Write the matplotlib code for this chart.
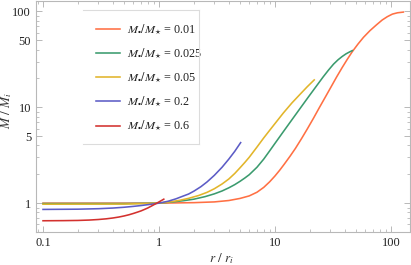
import matplotlib
matplotlib.use("Agg")
import matplotlib.pyplot as plt
from matplotlib.ticker import LogLocator, FixedLocator, NullFormatter, FixedFormatter
from matplotlib.lines import Line2D

plt.rcParams['font.family'] = ['Liberation Serif', 'DejaVu Serif']
plt.rcParams['mathtext.fontset'] = 'stix'

# ---- data ----
labels = [r'$M_{\bullet}/M_{\star}$ = 0.01', r'$M_{\bullet}/M_{\star}$ = 0.025',
          r'$M_{\bullet}/M_{\star}$ = 0.05', r'$M_{\bullet}/M_{\star}$ = 0.2',
          r'$M_{\bullet}/M_{\star}$ = 0.6']
colors = ['#ff7043', '#3b9b6e', '#e2b52a', '#5c5cc6', '#d3312e']

r_001 = [0.1, 0.5, 1.0, 2.0, 3.0, 4.0, 5.0, 6.0, 7.0, 8.0, 9.0, 10, 11, 12, 13.5, 15, 17,
         19, 21.5, 24, 27, 30, 34, 38, 42, 46.4, 52, 58, 66, 75, 84, 93, 103, 114, 128]
M_001 = [1.0, 1.0, 1.0, 1.012, 1.03, 1.065, 1.12, 1.19, 1.30, 1.46, 1.67, 1.92, 2.21,
         2.54, 3.09, 3.72, 4.74, 5.94, 7.7, 9.8, 12.6, 15.8, 20.7, 26.0, 31.6, 38.0, 45.7,
         53.7, 63.1, 72.4, 81.3, 88.1, 93.8, 96.8, 98.4]

r_0025 = [0.1, 0.5, 1.0, 1.3, 1.62, 2.0, 2.5, 3.0, 3.5, 4.0, 4.5, 5.0, 5.5, 6.0, 7.0, 8.0,
          9.0, 10, 11.8, 14, 16.4, 19.5, 22.9, 26, 29, 32, 35, 38, 41, 44, 46.4]
M_0025 = [0.99, 0.99, 1.0, 1.028, 1.06, 1.10, 1.17, 1.25, 1.34, 1.445, 1.56, 1.69, 1.83,
          1.98, 2.37, 2.88, 3.51, 4.2, 5.56, 7.41, 9.66, 12.9, 16.8, 20.7, 24.5, 28.2, 31.3,
          33.9, 36.1, 37.8, 39.0]

r_005 = [0.1, 0.5, 1.0, 1.24, 1.5, 1.8, 2.2, 2.6, 3.0, 3.5, 4.0, 4.5, 5.0, 5.5, 6.0, 7.0,
         8.0, 9.0, 10, 11.8, 14, 16.4, 19, 21.8]
M_005 = [0.975, 0.978, 1.0, 1.03, 1.069, 1.122, 1.202, 1.297, 1.413, 1.585, 1.786, 2.04,
         2.34, 2.66, 3.01, 3.85, 4.79, 5.75, 6.76, 8.71, 11.1, 13.6, 16.4, 19.3]

r_02 = [0.1, 0.2, 0.3, 0.4, 0.5, 0.6, 0.7, 0.8, 0.9, 1.0, 1.2, 1.4, 1.6, 1.8, 2.0, 2.3,
        2.6, 3.0, 3.5, 4.0, 4.5, 5.06]
M_02 = [0.86, 0.865, 0.875, 0.889, 0.906, 0.925, 0.944, 0.964, 0.982, 1.0, 1.047, 1.109,
        1.18, 1.245, 1.334, 1.486, 1.667, 1.95, 2.37, 2.88, 3.47, 4.28]

r_06 = [0.1, 0.15, 0.2, 0.25, 0.3, 0.35, 0.4, 0.45, 0.5, 0.55, 0.6, 0.65, 0.7, 0.75, 0.8,
        0.85, 0.9, 0.95, 1.0, 1.05, 1.1]
M_06 = [0.655, 0.657, 0.66, 0.666, 0.675, 0.686, 0.70, 0.716, 0.735, 0.756, 0.78, 0.805,
        0.83, 0.86, 0.89, 0.925, 0.96, 0.995, 1.03, 1.065, 1.10]

x_ticks = [0.1, 1, 10, 100]
x_ticklabels = ['0.1', '1', '10', '100']
y_ticks = [1, 5, 10, 50, 100]
y_ticklabels = ['1', '5', '10', '50', '100']

series = [(r_001, M_001), (r_0025, M_0025), (r_005, M_005), (r_02, M_02), (r_06, M_06)]

# ---- figure ----
fig = plt.figure(figsize=(4.11, 2.65), dpi=100)
ax = fig.add_axes([36/411, 1-232/265, 374/411, 231.5/265])

handles = []
for (r, m), c, lab in zip(series, colors, labels):
    h, = ax.plot(r, m, color=c, lw=1.15, label=lab, solid_joinstyle='round')
    handles.append(h)

ax.set_xscale('log')
ax.set_yscale('log')
ax.set_xlim(0.087, 146)
ax.set_ylim(0.5, 130)

frame_col = '#b8b8b8'
for s in ax.spines.values():
    s.set_color(frame_col)
    s.set_linewidth(0.8)

ax.xaxis.set_major_locator(FixedLocator(x_ticks))
ax.xaxis.set_major_formatter(FixedFormatter(x_ticklabels))
ax.xaxis.set_minor_locator(LogLocator(base=10, subs=range(2, 10)))
ax.xaxis.set_minor_formatter(NullFormatter())
ax.yaxis.set_major_locator(FixedLocator(y_ticks))
ax.yaxis.set_major_formatter(FixedFormatter(y_ticklabels))
ax.yaxis.set_minor_locator(LogLocator(base=10, subs=range(2, 10)))
ax.yaxis.set_minor_formatter(NullFormatter())

ax.tick_params(which='both', direction='in', top=True, right=True, color=frame_col,
               labelsize=9, labelcolor='#222222')
ax.tick_params(which='major', length=4.5, width=0.7, pad=3.5)
ax.tick_params(which='minor', length=2.5, width=0.6)

ax.set_xlabel(r'$r\ /\ r_i$', fontsize=9.5, color='#333333')
ax.set_ylabel(r'$M\ /\ M_i$', fontsize=9.5, color='#333333')
ax.xaxis.set_label_coords(0.497, -0.085)
ax.yaxis.set_label_coords(-0.058, 0.525)

leg = ax.legend(handles=handles, loc='upper left', bbox_to_anchor=((83-36)/374, 1-9.5/231.5),
                frameon=False, fontsize=8.7, handlelength=2.0, handletextpad=0.6,
                labelspacing=0.84, borderpad=1.05, borderaxespad=0)
for t in leg.get_texts():
    t.set_color('#222222')

# legend frame (top, right, bottom edges)
lc = '#dcdcdc'
x0, x1 = 83/411, 199/411
y0, y1 = 1-143.5/265, 1-9.5/265
for xs, ys in [([x0, x1], [y1, y1]), ([x1, x1], [y1, y0]), ([x0, x1], [y0, y0])]:
    fig.add_artist(Line2D(xs, ys, color=lc, lw=0.8, transform=fig.transFigure))

fig.savefig('out.png', dpi=100)
